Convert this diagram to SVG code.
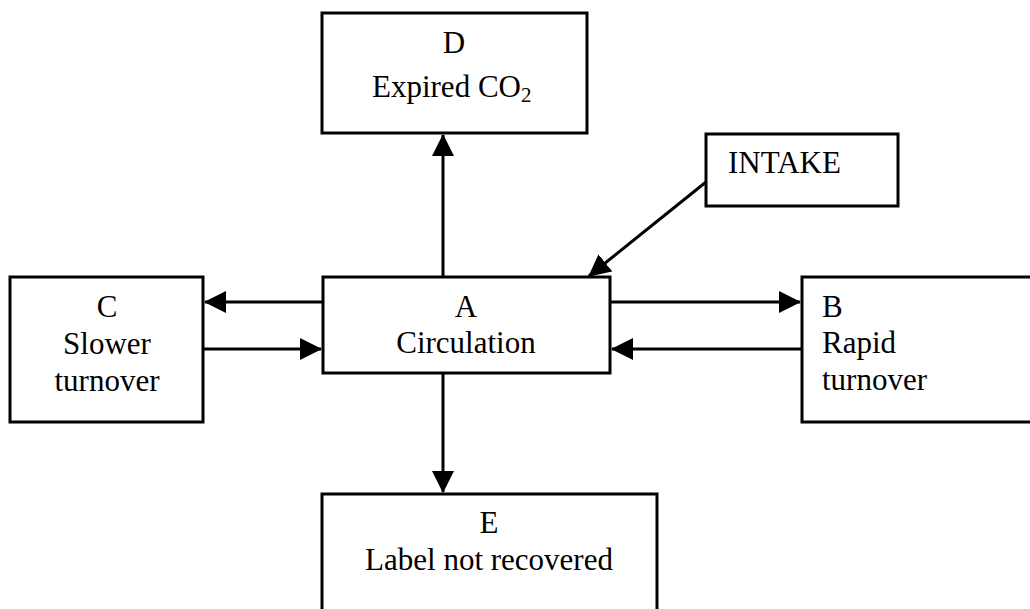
<svg xmlns="http://www.w3.org/2000/svg" width="1030" height="609" viewBox="0 0 1030 609">
<style>
.box{fill:#fff;stroke:#000;stroke-width:3}
.t{font-family:'Liberation Serif','DejaVu Serif',serif;font-size:31px;fill:#000}
.c{text-anchor:middle}
.ln{stroke:#000;stroke-width:3;fill:none}
</style>
<defs>
<marker id="ah" markerUnits="userSpaceOnUse" markerWidth="22" markerHeight="22" viewBox="0 0 22 22" refX="21" refY="11" orient="auto">
<path d="M0,0 L22,11 L0,22 Z" fill="#000"/>
</marker>
</defs>
<rect width="1030" height="609" fill="#fff"/>
<g id="connectors">
<line class="ln" x1="443" y1="277" x2="443" y2="135" marker-end="url(#ah)"/>
<line class="ln" x1="443" y1="373" x2="443" y2="492" marker-end="url(#ah)"/>
<line class="ln" x1="323" y1="302" x2="205" y2="302" marker-end="url(#ah)"/>
<line class="ln" x1="203" y1="349" x2="321" y2="349" marker-end="url(#ah)"/>
<line class="ln" x1="610" y1="302" x2="800" y2="302" marker-end="url(#ah)"/>
<line class="ln" x1="802" y1="349" x2="612" y2="349" marker-end="url(#ah)"/>
<line class="ln" x1="706" y1="182" x2="589" y2="276" marker-end="url(#ah)"/>
</g>
<g id="D">
<rect class="box" x="322" y="13" width="265" height="120"/>
<text class="t c" x="454" y="53" font-family="Liberation Serif, serif">D</text>
<text class="t" x="372" y="97" font-family="Liberation Serif, serif">Expired CO<tspan font-size="21" dy="5">2</tspan></text>
</g>
<g id="INTAKE">
<rect class="box" x="706" y="134" width="192" height="72"/>
<text class="t" x="728" y="173" font-family="Liberation Serif, serif">INTAKE</text>
</g>
<g id="A">
<rect class="box" x="323" y="277" width="287" height="96"/>
<text class="t c" x="466" y="317" font-family="Liberation Serif, serif">A</text>
<text class="t c" x="466" y="353" font-family="Liberation Serif, serif">Circulation</text>
</g>
<g id="C">
<rect class="box" x="10" y="277" width="193" height="145"/>
<text class="t c" x="107" y="317" font-family="Liberation Serif, serif">C</text>
<text class="t c" x="107" y="354" font-family="Liberation Serif, serif">Slower</text>
<text class="t c" x="107" y="391" font-family="Liberation Serif, serif">turnover</text>
</g>
<g id="B">
<rect class="box" x="802" y="277" width="240" height="145"/>
<text class="t" x="822" y="317" font-family="Liberation Serif, serif">B</text>
<text class="t" x="822" y="353" font-family="Liberation Serif, serif">Rapid</text>
<text class="t" x="822" y="390" font-family="Liberation Serif, serif">turnover</text>
</g>
<g id="E">
<rect class="box" x="322" y="494" width="335" height="130"/>
<text class="t c" x="489" y="533" font-family="Liberation Serif, serif">E</text>
<text class="t c" x="489" y="570" font-family="Liberation Serif, serif">Label not recovered</text>
</g>
</svg>
